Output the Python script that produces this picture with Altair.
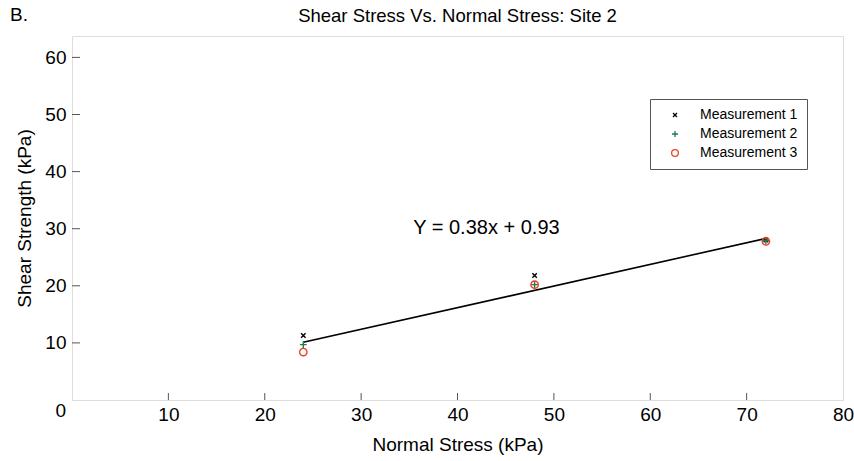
import altair as alt
import pandas as pd

# Data
normal_stress = [24, 48, 72]
m1 = [11.3, 21.8, 28.0]
m2 = [9.7, 20.2, 27.9]
m3 = [8.4, 20.2, 27.8]
series_names = ["Measurement 1", "Measurement 2", "Measurement 3"]
fit_x = [24, 72]
fit_y = [10.1, 28.3]
eq_label = "Y = 0.38x + 0.93"
eq_pos = (43.0, 30.2)
x_ticks = [10, 20, 30, 40, 50, 60, 70, 80]
y_ticks = [10, 20, 30, 40, 50, 60]
title_text = "Shear Stress Vs. Normal Stress: Site 2"
panel_label = "B."

FONT = "Liberation Sans"
W, H = 771, 364

rows = []
for name, vals in zip(series_names, [m1, m2, m3]):
    for x, y in zip(normal_stress, vals):
        rows.append({"x": x, "y": y, "series": name})
pts = pd.DataFrame(rows)
fit = pd.DataFrame({"x": fit_x, "y": fit_y})
eq = pd.DataFrame({"x": [eq_pos[0]], "y": [eq_pos[1]], "t": [eq_label]})
xt = pd.DataFrame({"v": x_ticks[:-1]})
yt = pd.DataFrame({"v": y_ticks})
zero = pd.DataFrame({"x": [0], "y": [0], "t": ["0"]})

xs = alt.Scale(domain=[0, 80], nice=False, zero=False)
ys = alt.Scale(domain=[0, 63.75], nice=False, zero=False)

xaxis = alt.Axis(values=x_ticks, title="Normal Stress (kPa)", grid=False, domain=False,
                 ticks=False, labelPadding=5, labelFontSize=19, titleFontSize=19,
                 labelFont=FONT, titleFont=FONT, labelColor="black", titleColor="black",
                 titleFontWeight="normal", titlePadding=11, labelFlush=False)
yaxis = alt.Axis(values=y_ticks, title="Shear Strength (kPa)", grid=False, domain=False,
                 ticks=False, labelPadding=6, labelFontSize=19, titleFontSize=19,
                 labelFont=FONT, titleFont=FONT, labelColor="black", titleColor="black",
                 titleFontWeight="normal", titlePadding=10, labelFlush=False)

base_x = alt.X("x:Q", scale=xs, axis=xaxis)
base_y = alt.Y("y:Q", scale=ys, axis=yaxis)

line = alt.Chart(fit).mark_line(color="black", strokeWidth=1.6).encode(x=base_x, y=base_y)

points = alt.Chart(pts).mark_point(filled=False, size=55, strokeWidth=1.4, opacity=1).encode(
    x=alt.X("x:Q", scale=xs, axis=xaxis),
    y=alt.Y("y:Q", scale=ys, axis=yaxis),
    color=alt.Color("series:N", scale=alt.Scale(domain=series_names,
                    range=["black", "#1e7a4c", "#e8432a"]),
                    legend=alt.Legend(title=None, orient="none", legendX=578, legendY=63,
                                      strokeColor="#555", padding=9, labelFont=FONT,
                                      labelFontSize=14, labelColor="black",
                                      symbolStrokeWidth=1.3, symbolSize=45, rowPadding=5,
                                      labelOffset=18, symbolOffset=9, labelLimit=200,
                                      fillColor="white")),
    shape=alt.Shape("series:N", scale=alt.Scale(domain=series_names,
                    range=["M-0.6,-0.6L0.6,0.6M-0.6,0.6L0.6,-0.6",
                           "M-0.9,0L0.9,0M0,-0.9L0,0.9", "circle"]),
                    legend=None),
)

eq_text = alt.Chart(eq).mark_text(font=FONT, fontSize=20, color="black").encode(
    x=alt.X("x:Q", scale=xs), y=alt.Y("y:Q", scale=ys), text="t:N")

xticks = alt.Chart(xt).mark_rule(color="#555").encode(
    x=alt.X("v:Q", scale=xs), y=alt.value(H), y2=alt.value(H - 7))
yticks = alt.Chart(yt).mark_rule(color="#555").encode(
    y=alt.Y("v:Q", scale=ys), x=alt.value(0), x2=alt.value(8))

zero_label = alt.Chart(zero).mark_text(font=FONT, fontSize=19, color="black",
                                       align="right", baseline="middle", dx=-6, dy=11).encode(
    x=alt.X("x:Q", scale=xs), y=alt.Y("y:Q", scale=ys), text="t:N")

b_label = alt.Chart(zero).mark_text(font=FONT, fontSize=19, color="black",
                                    align="left", baseline="middle").encode(
    x=alt.value(-62), y=alt.value(-21), text=alt.value(panel_label))

title_mark = alt.Chart(zero).mark_text(font=FONT, fontSize=18.5, color="black",
                                       align="center", baseline="middle").encode(
    x=alt.value(W / 2), y=alt.value(-20), text=alt.value(title_text))

chart = alt.layer(xticks, yticks, line, points, eq_text, zero_label, b_label, title_mark).properties(
    width=W, height=H,
    autosize=alt.AutoSizeParams(type="none"),
    padding={"left": 72, "top": 36, "right": 11, "bottom": 61},
).configure_view(stroke="#555", strokeWidth=1.2).configure(background="white")

chart.save("out.html", embed_options={"renderer": "svg", "actions": False})
